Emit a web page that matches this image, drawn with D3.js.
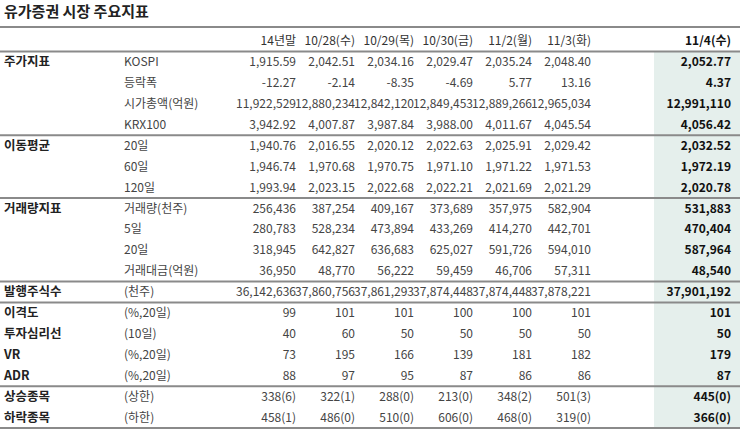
<!DOCTYPE html>
<html>
<head>
<meta charset="utf-8">
<script src="https://cdn.jsdelivr.net/npm/d3@7"></script>
<style>
body { margin: 0; background: #fff; }
text { font-family: "Noto Sans CJK KR", "Noto Sans", sans-serif; }
</style>
</head>
<body>
<div id="chart"></div>
<script>
// data
const title = '유가증권 시장 주요지표'
const columns = ['14년말', '10/28(수)', '10/29(목)', '10/30(금)', '11/2(월)', '11/3(화)', '11/4(수)']
const groups = ['주가지표', '', '', '', '이동평균', '', '', '거래량지표', '', '', '', '발행주식수', '이격도', '투자심리선', 'VR', 'ADR', '상승종목', '하락종목']
const items = ['KOSPI', '등락폭', '시가총액(억원)', 'KRX100', '20일', '60일', '120일', '거래량(천주)', '5일', '20일', '거래대금(억원)', '(천주)', '(%,20일)', '(10일)', '(%,20일)', '(%,20일)', '(상한)', '(하한)']
const values = [
    ['1,915.59', '2,042.51', '2,034.16', '2,029.47', '2,035.24', '2,048.40', '2,052.77'],
    ['-12.27', '-2.14', '-8.35', '-4.69', '5.77', '13.16', '4.37'],
    ['11,922,529', '12,880,234', '12,842,120', '12,849,453', '12,889,266', '12,965,034', '12,991,110'],
    ['3,942.92', '4,007.87', '3,987.84', '3,988.00', '4,011.67', '4,045.54', '4,056.42'],
    ['1,940.76', '2,016.55', '2,020.12', '2,022.63', '2,025.91', '2,029.42', '2,032.52'],
    ['1,946.74', '1,970.68', '1,970.75', '1,971.10', '1,971.22', '1,971.53', '1,972.19'],
    ['1,993.94', '2,023.15', '2,022.68', '2,022.21', '2,021.69', '2,021.29', '2,020.78'],
    ['256,436', '387,254', '409,167', '373,689', '357,975', '582,904', '531,883'],
    ['280,783', '528,234', '473,894', '433,269', '414,270', '442,701', '470,404'],
    ['318,945', '642,827', '636,683', '625,027', '591,726', '594,010', '587,964'],
    ['36,950', '48,770', '56,222', '59,459', '46,706', '57,311', '48,540'],
    ['36,142,636', '37,860,756', '37,861,293', '37,874,448', '37,874,448', '37,878,221', '37,901,192'],
    ['99', '101', '101', '100', '100', '101', '101'],
    ['40', '60', '50', '50', '50', '50', '50'],
    ['73', '195', '166', '139', '181', '182', '179'],
    ['88', '97', '95', '87', '86', '86', '87'],
    ['338(6)', '322(1)', '288(0)', '213(0)', '348(2)', '501(3)', '445(0)'],
    ['458(1)', '486(0)', '510(0)', '606(0)', '468(0)', '319(0)', '366(0)']
]
// separator lines after these row indexes
const breaks = [3, 6, 10, 11, 15, 17]

var width = 740, height = 436
var svg = d3.select('#chart').append('svg')
    .attr('width', width).attr('height', height)

// row y (text center)
var yScale = d3.scaleLinear().domain([0, 17]).range([62, 417.5])
// column right edges
var xScale = d3.scalePoint().domain(columns).range([296, 650])
var colRight = c => c === '11/4(수)' ? 731 : xScale(c)
var step = yScale(1) - yScale(0)

// highlight column
svg.append('rect')
    .attr('x', 654).attr('y', 51.5)
    .attr('width', width - 654).attr('height', yScale(17) + step / 2 - 51.5)
    .attr('fill', '#e5efec')

svg.append('text')
    .attr('x', 4).attr('y', 17)
    .attr('font-size', 15).attr('font-weight', 'bold').attr('fill', '#222')
    .text(title)

// header
svg.selectAll('.head').data(columns).enter().append('text')
    .attr('x', colRight).attr('y', 41)
    .attr('dy', '0.35em').attr('text-anchor', 'end')
    .attr('font-size', 12)
    .attr('font-weight', (d, i) => i === 6 ? 'bold' : 'normal')
    .attr('fill', (d, i) => i === 6 ? '#111' : '#333')
    .text(d => d)

// lines
function hline (y, w, c) {
    svg.append('line').attr('x1', 0).attr('x2', width)
        .attr('y1', y).attr('y2', y)
        .attr('stroke', c).attr('stroke-width', w)
}
hline(27, 2, '#8a8a8a')
hline(51.5, 2, '#8a8a8a')
breaks.forEach(b => hline(yScale(b) + step / 2, 2, '#8a8a8a'))

var rows = svg.selectAll('.row').data(values).enter().append('g')
    .attr('transform', (d, i) => 'translate(0,' + yScale(i) + ')')

rows.append('text')
    .attr('x', 4).attr('dy', '0.35em')
    .attr('font-size', 12.5).attr('font-weight', 'bold').attr('fill', '#222')
    .text((d, i) => groups[i])

rows.append('text')
    .attr('x', 124).attr('dy', '0.35em')
    .attr('font-size', 12).attr('fill', '#444')
    .text((d, i) => items[i])

rows.selectAll('.v').data(d => d).enter().append('text')
    .attr('x', (d, j) => colRight(columns[j])).attr('dy', '0.35em')
    .attr('text-anchor', 'end').attr('font-size', 12)
    .attr('font-weight', (d, j) => j === 6 ? 'bold' : 'normal')
    .attr('fill', (d, j) => j === 6 ? '#111' : '#444')
    .text(d => d)
</script>
</body>
</html>
